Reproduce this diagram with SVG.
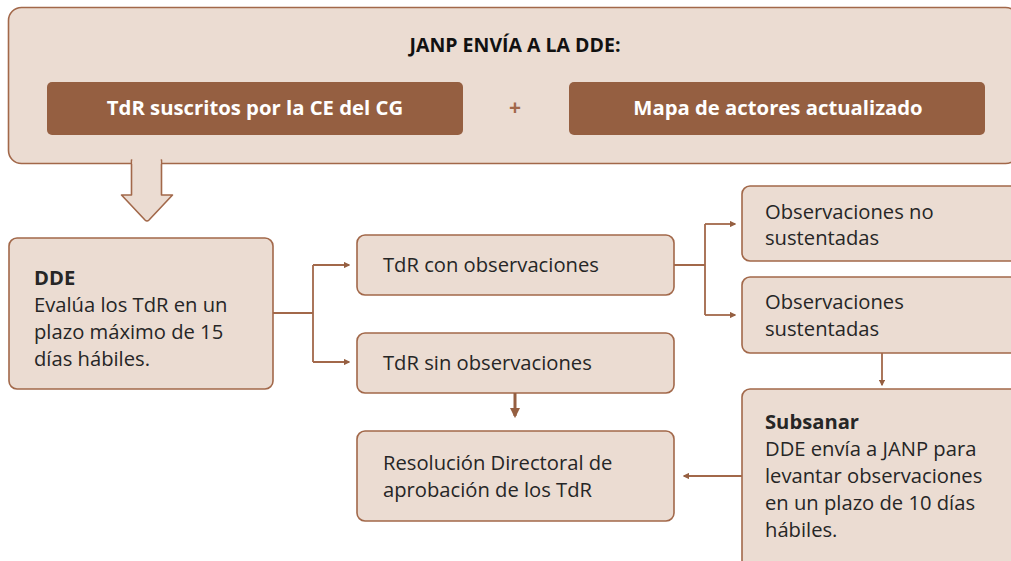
<svg xmlns="http://www.w3.org/2000/svg" width="1011" height="561" viewBox="0 0 1011 561">
<defs>
<style>
.box{fill:#ebdcd2;stroke:#a2684a;stroke-width:1.6}
.dark{fill:#955f41}
.t{font-family:"Open Sans","Liberation Sans",sans-serif;font-size:20.2px;fill:#262626}
.b{font-weight:bold}
.w{font-family:"Open Sans","Liberation Sans",sans-serif;font-size:20.3px;font-weight:bold;fill:#fff}
.title{font-family:"Open Sans","Liberation Sans",sans-serif;font-size:19.5px;font-weight:bold;fill:#111}
.c{fill:none;stroke:#a2684a;stroke-width:1.8}
</style>
<marker id="ah" viewBox="0 0 10 10" refX="8" refY="5" markerWidth="3.5" markerHeight="3.5" orient="auto">
<path d="M0,0 L10,5 L0,10 z" fill="#955f41"/>
</marker>
<marker id="ahb" viewBox="0 0 10 10" refX="8" refY="5" markerWidth="3.5" markerHeight="3.5" orient="auto">
<path d="M0,0 L10,5 L0,10 z" fill="#955f41"/>
</marker>
</defs>

<g id="top">
<rect class="box" x="8.5" y="7.5" width="1010" height="156" rx="13"/>
<text class="title" x="515" y="52" text-anchor="middle">JANP ENVÍA A LA DDE:</text>
<rect class="dark" x="47" y="82" width="416" height="53" rx="5"/>
<text class="w" x="255" y="115" text-anchor="middle">TdR suscritos por la CE del CG</text>
<text x="515" y="115" text-anchor="middle" style="font-family:'Open Sans',sans-serif;font-size:21px;font-weight:bold;fill:#a2684a">+</text>
<rect class="dark" x="569" y="82" width="416" height="53" rx="5"/>
<text class="w" x="778" y="115" text-anchor="middle">Mapa de actores actualizado</text>
</g>

<g id="blockarrow">
<path d="M131.5,160 L161.5,160 L161.5,195 L172.5,195 L149,220 Q147,222 145,220 L121.5,195 L131.5,195 Z" fill="#ebdcd2" stroke="#a2684a" stroke-width="1.6" stroke-linejoin="round"/>
<rect x="132.3" y="158" width="28.4" height="6" fill="#ebdcd2"/>
</g>

<g id="dde">
<rect class="box" x="9" y="238" width="264" height="151" rx="8"/>
<text class="t" x="34" y="285"><tspan class="b">DDE</tspan><tspan x="34" dy="27">Evalúa los TdR en un</tspan><tspan x="34" dy="27">plazo máximo de 15</tspan><tspan x="34" dy="27">días hábiles.</tspan></text>
</g>

<g id="con">
<rect class="box" x="357" y="235" width="317" height="60" rx="8"/>
<text class="t" x="383" y="272">TdR con observaciones</text>
</g>

<g id="sin">
<rect class="box" x="357" y="333" width="317" height="60" rx="8"/>
<text class="t" x="383" y="370">TdR sin observaciones</text>
</g>

<g id="nosust">
<rect class="box" x="742" y="186" width="290" height="75" rx="8"/>
<text class="t" x="765" y="219">Observaciones no<tspan x="765" dy="26">sustentadas</tspan></text>
</g>

<g id="sust">
<rect class="box" x="742" y="277" width="290" height="76" rx="8"/>
<text class="t" x="765" y="309">Observaciones<tspan x="765" dy="27">sustentadas</tspan></text>
</g>

<g id="subsanar">
<rect class="box" x="742" y="389" width="290" height="190" rx="8"/>
<text class="t" x="765" y="429"><tspan class="b">Subsanar</tspan><tspan x="765" dy="27">DDE envía a JANP para</tspan><tspan x="765" dy="27">levantar observaciones</tspan><tspan x="765" dy="27">en un plazo de 10 días</tspan><tspan x="765" dy="27">hábiles.</tspan></text>
</g>

<g id="resolucion">
<rect class="box" x="357" y="431" width="317" height="90" rx="8"/>
<text class="t" x="383" y="470">Resolución Directoral de<tspan x="383" dy="27">aprobación de los TdR</tspan></text>
</g>

<g id="connectors">
<path class="c" d="M273,313 H313 M313,265 V362"/>
<path class="c" d="M313,265 H349" marker-end="url(#ah)"/>
<path class="c" d="M313,362 H349" marker-end="url(#ah)"/>
<path class="c" d="M674,265 H705 M705,224 V315"/>
<path class="c" d="M705,224 H735" marker-end="url(#ah)"/>
<path class="c" d="M705,315 H735" marker-end="url(#ah)"/>
<path class="c" d="M882,353 V385" marker-end="url(#ah)"/>
<path class="c" d="M742,476 H684" marker-end="url(#ah)"/>
<path d="M515,393 V416" fill="none" stroke="#955f41" stroke-width="3" marker-end="url(#ahb)"/>
</g>
</svg>
